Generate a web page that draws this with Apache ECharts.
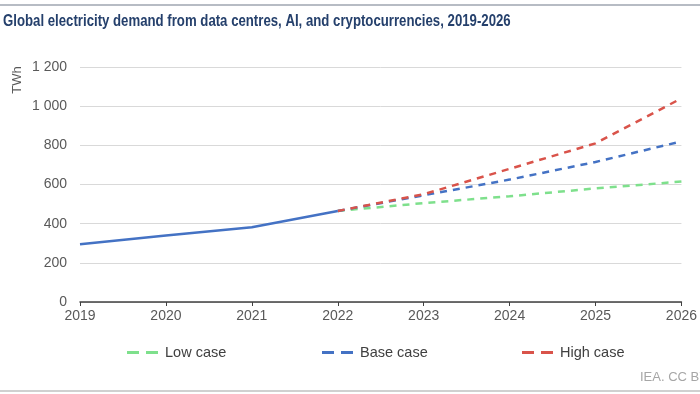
<!DOCTYPE html>
<html><head><meta charset="utf-8">
<script src="https://cdn.jsdelivr.net/npm/echarts@6/dist/echarts.min.js"></script>
<style>html,body{margin:0;padding:0;background:#fff}#c{width:700px;height:394px}</style>
</head><body><div id="c"></div>
<script>
const years = ['2019','2020','2021','2022','2023','2024','2025','2026'];
const historic = [295, 340, 382, 465, null, null, null, null];
const lowCase = [null, null, null, 465, 505, 540, 580, 615];
const baseCase = [null, null, null, 465, 545, 625, 715, 820];
const highCase = [null, null, null, 465, 550, 680, 810, 1040];
const yTicks = [0, 200, 400, 600, 800, 1000, 1200];

const chart = echarts.init(document.getElementById('c'));
const fmt = v => v >= 1000 ? Math.floor(v/1000) + ' ' + String(v%1000).padStart(3,'0') : String(v);
const dashStyle = (c) => ({ color: c, width: 2.5, type: [7, 6] });
const FONT = 'Liberation Sans, Arial';
const legendBase = {
  top: 340, itemWidth: 31, itemHeight: 3, itemGap: 0,
  icon: 'path://M0,0h12v3h-12z M19,0h12v3h-12z',
  textStyle: { color: '#404040', fontSize: 14.5, fontFamily: FONT, padding: [0, 0, 0, 2] }
};
chart.setOption({
  animation: false,
  graphic: [
    { type: 'rect', shape: { x: 0, y: 4, width: 700, height: 2 }, style: { fill: '#b7bcc4' } },
    { type: 'rect', shape: { x: 0, y: 390, width: 700, height: 2 }, style: { fill: '#d0d0d0' } },
    { type: 'text', x: 3, y: 21, scaleX: 0.8, style: {
        text: 'Global electricity demand from data centres, AI, and cryptocurrencies, 2019-2026',
        fill: '#25406c', font: 'bold 16.5px Liberation Sans, Arial', verticalAlign: 'middle' } },
    { type: 'text', x: 17, y: 80, rotation: Math.PI / 2, style: {
        text: 'TWh', fill: '#595959', font: '13px Liberation Sans, Arial', align: 'center', verticalAlign: 'middle' } },
    { type: 'text', left: 640, top: 371, style: { text: 'IEA. CC BY 4.0', fill: '#a6a6a6', fontSize: 13, fontFamily: FONT } }
  ],
  legend: [
    Object.assign({ left: 122, data: ['Low case'] }, legendBase),
    Object.assign({ left: 317, data: ['Base case'] }, legendBase),
    Object.assign({ left: 517, data: ['High case'] }, legendBase)
  ],
  grid: { left: 80, right: 12, top: 67, bottom: 92 },
  xAxis: {
    type: 'category', data: years, boundaryGap: false,
    axisLine: { lineStyle: { color: '#404040', width: 1.5 } },
    axisTick: { show: true, length: 4, lineStyle: { color: '#404040' } },
    axisLabel: { color: '#595959', fontSize: 14, margin: 7, fontFamily: FONT }
  },
  yAxis: {
    type: 'value', min: 0, max: 1200, interval: 200,
    axisLine: { show: false }, axisTick: { show: false },
    splitLine: { lineStyle: { color: '#d9d9d9', width: 1 } },
    axisLabel: { color: '#595959', fontSize: 14, margin: 13, formatter: fmt, fontFamily: FONT }
  },
  series: [
    { name: 'Historic', type: 'line', data: historic, symbol: 'none', lineStyle: { color: '#4472c4', width: 2.5 }, itemStyle: { color: '#4472c4' }, z: 5 },
    { name: 'Low case', type: 'line', data: lowCase, symbol: 'none', lineStyle: dashStyle('#7ee08c'), itemStyle: { color: '#7ee08c' } },
    { name: 'Base case', type: 'line', data: baseCase, symbol: 'none', lineStyle: dashStyle('#4472c4'), itemStyle: { color: '#4472c4' } },
    { name: 'High case', type: 'line', data: highCase, symbol: 'none', lineStyle: dashStyle('#d9534a'), itemStyle: { color: '#d9534a' } }
  ]
});
</script></body></html>
